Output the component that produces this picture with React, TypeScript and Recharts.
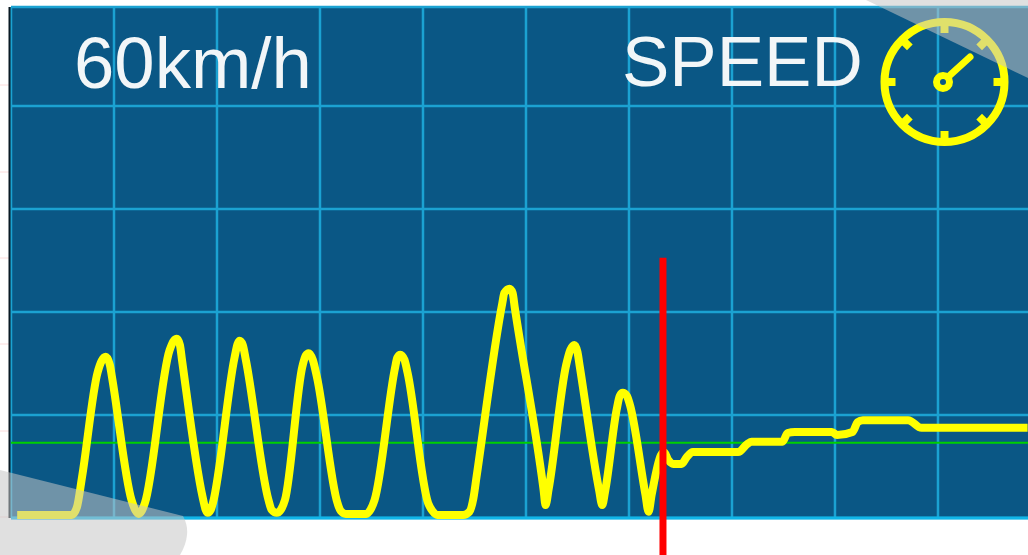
import React from "react";
import { ComposedChart, Line, XAxis, YAxis, CartesianGrid, ReferenceLine } from "recharts";

const timeSeconds = [0.6,5.9,6.4,6.9,8.4,8.8,9.2,9.6,9.8,11.7,12.1,12.4,12.7,13.0,15.4,15.8,16.1,16.4,16.6,18.6,18.9,19.1,19.4,19.6,21.7,22.0,22.2,22.5,22.8,25.0,25.3,25.8,26.2,26.6,28.3,28.6,28.9,29.3,29.7,31.7,32.0,32.5,34.5,34.9,35.3,37.3,37.5,37.8,38.2,38.5,40.5,40.9,41.4,43.9,44.5,44.9,45.2,47.7,47.9,48.4,48.7,48.9,51.7,51.9,52.2,53.9,54.3,54.7,55.0,55.2,57.1,57.4,57.7,58.8,59.1,59.4,59.8,60.1,61.6,61.9,62.2,63.1,63.4,63.8,64.3,65.1,65.6,66.2,70.6,71.5,71.9,74.9,75.4,76.1,79.7,80.2,81.7,82.2,82.7,87.1,88.4,98.7];
const speedKmh = [0.6,0.6,2.1,8.0,28.2,30.5,31.3,29.7,27.4,3.5,1.4,0.8,1.4,2.9,32.6,34.4,34.8,33.6,30.7,4.1,1.6,1.0,1.6,2.9,31.1,33.8,34.4,33.6,30.7,3.5,1.6,1.0,1.6,3.5,29.5,31.5,32.0,30.7,27.4,2.9,1.4,0.8,0.8,1.6,3.5,29.3,31.1,31.7,30.7,28.2,2.9,1.4,0.6,0.6,1.2,3.9,8.0,41.7,43.7,44.5,43.7,41.0,5.6,2.5,5.6,29.7,32.6,33.6,32.2,29.7,5.4,2.5,5.4,21.0,23.7,24.3,23.7,21.9,4.5,1.2,4.5,12.2,12.8,11.3,10.5,10.5,11.8,12.8,12.8,14.4,14.8,14.8,16.5,16.7,16.7,16.1,16.7,18.6,19.0,19.0,17.5,17.5];
const xTicks = [0,10,20,30,40,50,60,70,80,90];
const yTicks = [0,20,40,60,80,99.2];
const referenceSpeed = 14.6;
const cursorTime = 63.3;
const cursorRange = [-7.2, 50.5];
const readout = "60km/h";
const title = "SPEED";

const data = timeSeconds.map((t, i) => ({ t, speed: speedKmh[i] }));
const tickAngles = [0,45,90,135,180,225,270,315];
const pinkRows = [85,172,258,344,431,517];
const GREY = "rgba(198,198,198,0.54)";
const FONT = "'Liberation Sans', Arial, sans-serif";

function Overlay() {
  const cx = 944.5, cy = 82;
  return (
    <svg width={1028} height={555} style={{ position: "absolute", left: 0, top: 0, pointerEvents: "none" }}>
      {pinkRows.map((y) => <line key={y} x1={0} x2={9} y1={y} y2={y} stroke="#fbdcdc" strokeWidth={1} />)}
      <line x1={9.5} x2={9.5} y1={7} y2={518} stroke="#0a1a24" strokeWidth={2} />
      <text x={74} y={88} fontFamily={FONT} fontSize={72.5} fill="#f2f6f8">{readout}</text>
      <text x={622} y={86} fontFamily={FONT} fontSize={71} fill="#f2f6f8">{title}</text>
      <g stroke="#ffff00" fill="none">
        <circle cx={cx} cy={cy} r={60} strokeWidth={8} />
        {tickAngles.map((a) => {
          const r = (a * Math.PI) / 180;
          return <line key={a} x1={cx + 60 * Math.cos(r)} y1={cy + 60 * Math.sin(r)} x2={cx + 49 * Math.cos(r)} y2={cy + 49 * Math.sin(r)} strokeWidth={8} />;
        })}
        <circle cx={943} cy={82} r={6.5} strokeWidth={7} />
        <line x1={948} y1={77} x2={970} y2={57} strokeWidth={7} strokeLinecap="round" />
      </g>
      <path d="M866 0 L1028 78 L1028 0 Z" fill={GREY} />
      <path d="M0 470 L183 516 Q188 525 187 535 Q186 545 180 555 L0 555 Z" fill={GREY} />
    </svg>
  );
}

export default function App() {
  return (
    <div style={{ position: "absolute", left: 0, top: 0, width: 1028, height: 555, overflow: "hidden", background: "#fff" }}>
      <ComposedChart width={1028} height={555} data={data} margin={{ top: 7, right: 0, bottom: 37, left: 11 }}>
        <XAxis type="number" dataKey="t" domain={[0, 98.74]} ticks={xTicks} hide />
        <YAxis type="number" domain={[0, 99.2]} ticks={yTicks} hide />
        <CartesianGrid fill="#0a5785" fillOpacity={1} stroke="#1ba2d2" strokeWidth={2.5} syncWithTicks />
        <ReferenceLine y={0} stroke="#10b5e8" strokeWidth={3} />
        <ReferenceLine y={referenceSpeed} stroke="#00d000" strokeWidth={2} />
        <Line type="monotone" dataKey="speed" stroke="#ffff00" strokeWidth={8} dot={false} activeDot={false} isAnimationActive={false} strokeLinejoin="round" />
        <ReferenceLine
          segment={[{ x: cursorTime, y: cursorRange[0] }, { x: cursorTime, y: cursorRange[1] }]}
          stroke="#ff0000"
          strokeWidth={7}
          ifOverflow="visible"
        />
      </ComposedChart>
      <Overlay />
    </div>
  );
}
